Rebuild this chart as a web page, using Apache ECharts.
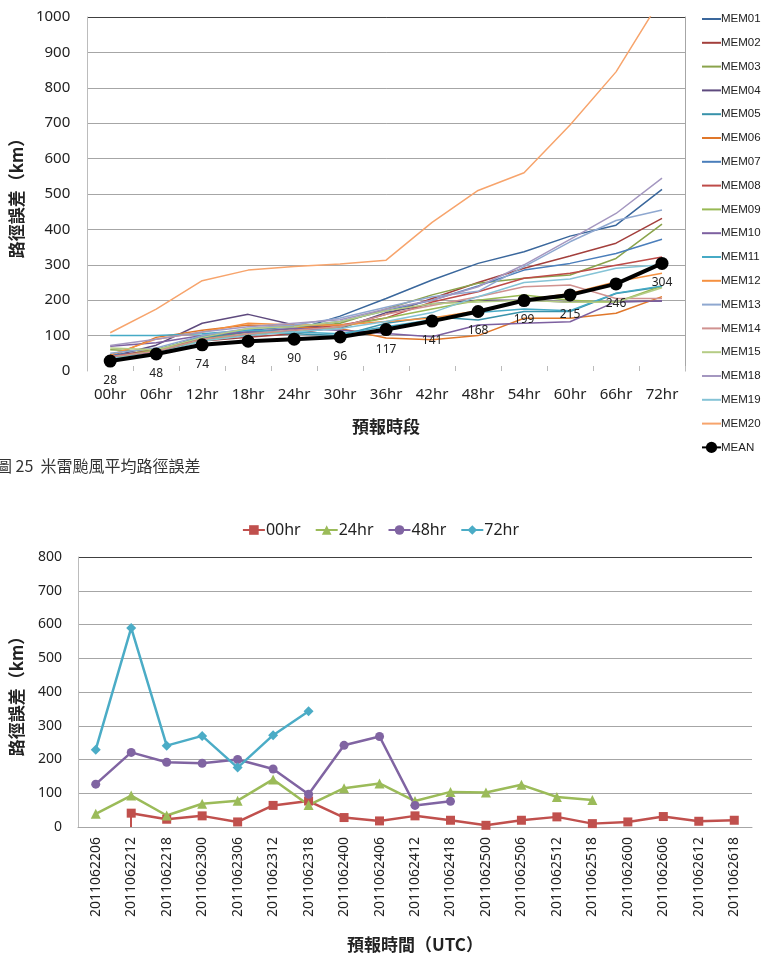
<!DOCTYPE html>
<html>
<head>
<meta charset="utf-8">
<script src="https://cdn.jsdelivr.net/npm/echarts@6/dist/echarts.min.js"></script>
<style>
  html, body { margin: 0; padding: 0; background: #fff; }
  #chart { width: 761px; height: 954px; }
</style>
</head>
<body>
<div id="chart"></div>
<script>
// ---- top chart: ensemble members vs forecast lead time ----
const leadTimes = ['00hr', '06hr', '12hr', '18hr', '24hr', '30hr', '36hr', '42hr', '48hr', '54hr', '60hr', '66hr', '72hr']

const mem01 = [40, 60, 95, 100, 115, 155, 205, 257, 304, 337, 381, 412, 513]
const mem02 = [35, 55, 85, 95, 105, 125, 160, 205, 250, 290, 325, 361, 431]
const mem03 = [60, 55, 90, 110, 120, 135, 175, 215, 248, 262, 271, 318, 415]
const mem04 = [40, 73, 135, 160, 130, 120, 165, 190, 200, 200, 195, 195, 198]
const mem05 = [30, 60, 95, 110, 105, 100, 135, 153, 144, 168, 168, 219, 238]
const mem06 = [40, 95, 115, 130, 125, 120, 93, 88, 100, 149, 149, 163, 210]
const mem07 = [45, 55, 100, 115, 125, 140, 170, 200, 240, 285, 304, 332, 372]
const mem08 = [40, 60, 90, 100, 115, 130, 150, 195, 224, 262, 276, 299, 322]
const mem09 = [35, 60, 85, 105, 110, 125, 150, 175, 200, 215, 200, 194, 240]
const mem10 = [70, 80, 100, 110, 120, 115, 106, 97, 130, 135, 139, 196, 198]
const mem11 = [100, 100, 105, 115, 110, 105, 125, 145, 165, 175, 170, 220, 240]
const mem12 = [45, 90, 110, 135, 130, 130, 140, 150, 170, 200, 219, 252, 276]
const mem13 = [50, 65, 100, 120, 130, 150, 180, 210, 225, 295, 365, 425, 455]
const mem14 = [40, 55, 90, 105, 115, 125, 160, 185, 210, 238, 243, 205, 205]
const mem15 = [65, 60, 95, 120, 125, 140, 170, 190, 195, 200, 194, 194, 235]
const mem18 = [72, 90, 110, 125, 135, 145, 175, 200, 238, 300, 372, 445, 545]
const mem19 = [35, 50, 85, 100, 110, 120, 140, 165, 210, 250, 260, 290, 300]
const mem20 = [108, 175, 255, 285, 295, 302, 313, 420, 510, 560, 695, 845, 1055]
const meanError = [28, 48, 74, 84, 90, 96, 117, 141, 168, 199, 215, 246, 304]

const members = [
  ['MEM01', mem01, '#3a679c'],
  ['MEM02', mem02, '#a33f3c'],
  ['MEM03', mem03, '#8aa34b'],
  ['MEM04', mem04, '#5e4a7e'],
  ['MEM05', mem05, '#3892aa'],
  ['MEM06', mem06, '#e0772a'],
  ['MEM07', mem07, '#4a7ebb'],
  ['MEM08', mem08, '#be4b48'],
  ['MEM09', mem09, '#98b954'],
  ['MEM10', mem10, '#7d60a0'],
  ['MEM11', mem11, '#46aac5'],
  ['MEM12', mem12, '#f59141'],
  ['MEM13', mem13, '#8fa8d0'],
  ['MEM14', mem14, '#d09290'],
  ['MEM15', mem15, '#b5cc85'],
  ['MEM18', mem18, '#a497c0'],
  ['MEM19', mem19, '#85c3d6'],
  ['MEM20', mem20, '#f7a46c'],
]

// ---- bottom chart: error by forecast issue time ----
const issueTimes = [
  '2011062206', '2011062212', '2011062218', '2011062300', '2011062306', '2011062312', '2011062318',
  '2011062400', '2011062406', '2011062412', '2011062418', '2011062500', '2011062506', '2011062512',
  '2011062518', '2011062600', '2011062606', '2011062612', '2011062618',
]
const err00 = [null, 41, 23, 33, 15, 64, 77, 28, 18, 33, 20, 5, 20, 30, 10, 15, 31, 17, 20]
const err24 = [39, 93, 34, 69, 78, 141, 65, 115, 129, 77, 104, 102, 125, 89, 80, null, null, null, null]
const err48 = [127, 221, 192, 189, 200, 172, 97, 242, 268, 64, 76, null, null, null, null, null, null, null, null]
const err72 = [229, 590, 241, 270, 176, 272, 343, null, null, null, null, null, null, null, null, null, null, null, null]
const err00Drop = ['2011062212', 0, 41]

const latin = '"Noto Sans", "Open Sans", sans-serif'
const cjk = '"Noto Sans CJK TC", "Noto Sans CJK SC", sans-serif'

const chart = echarts.init(document.getElementById('chart'))

const topSeries = members.map(([name, values, color]) => ({
  name,
  type: 'line',
  xAxisIndex: 0,
  yAxisIndex: 0,
  data: values,
  symbol: 'none',
  color,
  lineStyle: { width: 1.5, color },
  z: 2,
}))

topSeries.push({
  name: 'MEAN',
  type: 'line',
  xAxisIndex: 0,
  yAxisIndex: 0,
  data: meanError,
  symbol: 'circle',
  symbolSize: 13,
  color: '#000',
  itemStyle: { color: '#000' },
  lineStyle: { width: 4, color: '#000' },
  label: {
    show: true,
    position: 'bottom',
    distance: 7,
    color: '#222',
    fontSize: 12,
    fontFamily: latin,
  },
  z: 5,
})

function issueSeries(name, values, symbol, size, color) {
  return {
    name,
    type: 'line',
    xAxisIndex: 1,
    yAxisIndex: 2,
    data: values,
    symbol,
    symbolSize: size,
    color,
    itemStyle: { color },
    lineStyle: { width: 2.5, color },
  }
}

const bottomSeries = [
  issueSeries('00hr', err00, 'rect', 9, '#c0504d'),
  issueSeries('24hr', err24, 'triangle', 10, '#9bbb59'),
  issueSeries('48hr', err48, 'circle', 9, '#8064a2'),
  issueSeries('72hr', err72, 'diamond', 10, '#4bacc6'),
]
bottomSeries[0].markLine = {
  silent: true,
  symbol: 'none',
  label: { show: false },
  lineStyle: { color: '#c0504d', width: 2, type: 'solid' },
  data: [[{ coord: [err00Drop[0], err00Drop[1]] }, { coord: [err00Drop[0], err00Drop[2]] }]],
}

const topSplitColors = ['rgba(0,0,0,0)'].concat(Array(9).fill('#a6a6a6'), ['#404040'])
const bottomSplitColors = ['rgba(0,0,0,0)'].concat(Array(7).fill('#a6a6a6'), ['#404040'])

// member legend entries show only the line, MEAN keeps its dot
const topLegendData = members
  .map((m) => ({ name: m[0], itemStyle: { opacity: 0 } }))
  .concat([{ name: 'MEAN' }])

chart.setOption({
  animation: false,
  backgroundColor: '#fff',
  grid: [
    { left: 81, top: 17, width: 604, height: 354 },
    { left: 73, top: 557, width: 679, height: 272 },
  ],
  legend: [
    {
      orient: 'vertical',
      left: 696,
      top: 8,
      itemWidth: 19,
      itemHeight: 14,
      itemGap: 11.8,
      textStyle: { fontSize: 11.5, fontFamily: '"Liberation Sans", Arial, sans-serif', color: '#222', padding: [0, 0, 0, -5] },
      data: topLegendData,
    },
    {
      top: 517,
      left: 'center',
      itemWidth: 22,
      itemHeight: 12,
      itemGap: 14,
      textStyle: { fontSize: 16, fontFamily: latin, color: '#222', padding: [0, 0, 0, -4] },
      data: ['00hr', '24hr', '48hr', '72hr'],
    },
  ],
  xAxis: [
    {
      type: 'category',
      gridIndex: 0,
      data: leadTimes,
      name: '預報時段',
      nameLocation: 'middle',
      nameGap: 47,
      nameTextStyle: { fontSize: 17, fontFamily: cjk, fontWeight: 'bold', color: '#222' },
      axisLine: { show: false },
      axisTick: { show: true, length: 5, inside: true, lineStyle: { color: '#bbb' } },
      axisLabel: { fontSize: 15, fontFamily: latin, color: '#222', margin: 16 },
    },
    {
      type: 'category',
      gridIndex: 1,
      data: issueTimes,
      name: '預報時間（UTC）',
      nameLocation: 'middle',
      nameGap: 109,
      nameTextStyle: { fontSize: 17, fontFamily: cjk, fontWeight: 'bold', color: '#222' },
      axisLine: { lineStyle: { color: '#a6a6a6' } },
      axisTick: { length: 5, lineStyle: { color: '#a6a6a6' } },
      axisLabel: { rotate: 90, fontSize: 14, fontFamily: latin, color: '#222', margin: 10 },
    },
  ],
  yAxis: [
    {
      type: 'value',
      gridIndex: 0,
      min: 0,
      max: 1000,
      interval: 100,
      name: '路徑誤差（km）',
      nameLocation: 'middle',
      nameGap: 60,
      nameTextStyle: { fontSize: 17, fontFamily: cjk, fontWeight: 'bold', color: '#222' },
      axisLine: { show: true, lineStyle: { color: '#bcbcbc' } },
      axisTick: { show: false },
      axisLabel: { fontSize: 15, fontFamily: latin, color: '#222', margin: 17, formatter: (v) => String(v) },
      splitLine: { lineStyle: { color: topSplitColors } },
    },
    {
      type: 'value',
      gridIndex: 0,
      position: 'right',
      min: 0,
      max: 1000,
      interval: 100,
      axisLine: { show: true, lineStyle: { color: '#a6a6a6' } },
      axisTick: { show: false },
      axisLabel: { show: false },
      splitLine: { show: false },
    },
    {
      type: 'value',
      gridIndex: 1,
      min: 0,
      max: 800,
      interval: 100,
      name: '路徑誤差（km）',
      nameLocation: 'middle',
      nameGap: 53,
      nameTextStyle: { fontSize: 17, fontFamily: cjk, fontWeight: 'bold', color: '#222' },
      axisLine: { show: true, lineStyle: { color: '#bcbcbc' } },
      axisTick: { show: false },
      axisLabel: { fontSize: 14, fontFamily: latin, color: '#222', margin: 16 },
      splitLine: { lineStyle: { color: bottomSplitColors } },
    },
  ],
  graphic: [
    {
      type: 'text',
      left: -4,
      top: 458,
      style: {
        text: '圖 25  米雷颱風平均路徑誤差',
        fontSize: 16,
        fontFamily: cjk,
        fill: '#333',
      },
    },
  ],
  series: topSeries.concat(bottomSeries),
})
</script>
</body>
</html>
